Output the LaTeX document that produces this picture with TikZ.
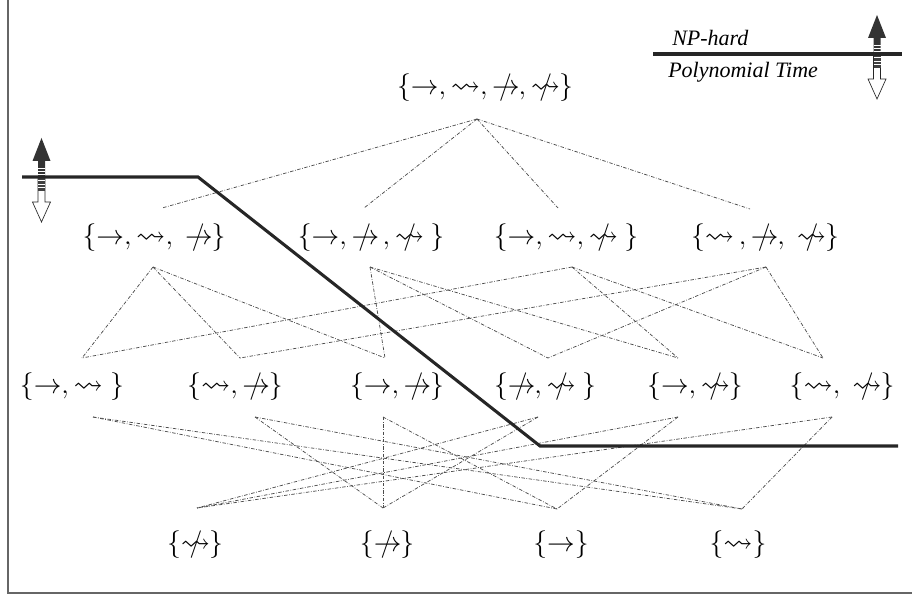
\documentclass[tikz,border=0pt]{standalone}
\usepackage{amssymb}
\usepackage{fontspec}
\setmainfont{Liberation Serif}
\newcommand{\nArr}{\mathrel{\rightarrow\mkern-13.5mu\mathrel{/}\mkern4.5mu}}
\newcommand{\nSq}{\mathrel{\rightsquigarrow\mkern-13.5mu\mathrel{/}\mkern4.5mu}}
\tikzset{
  hasse/.style={draw=black!70, line width=0.55pt, dash pattern=on 2.6pt off 1.2pt on 0.5pt off 1.2pt},
  cutline/.style={draw=black!85, line width=2.3pt},
  setlbl/.style={font=\fontsize{22}{26}\selectfont, inner sep=0pt},
  legendtxt/.style={font=\fontsize{16.5}{19}\selectfont\itshape, inner sep=0pt},
  framel/.style={draw=black!60, line width=0.8pt},
  updown/.pic={
    \fill[black!80] (-3.5,0) -- (-3.5,-16) -- (-9,-16) -- (0,-39) -- (9,-16) -- (3.5,-16) -- (3.5,0) -- cycle;
    \draw[white, line width=0.6pt] (-3.5,-2.5) -- (3.5,-2.5) (-3.5,-5.5) -- (3.5,-5.5) (-3.5,-8.5) -- (3.5,-8.5);
    \filldraw[fill=white, draw=black!85, line width=0.5pt] (-3.5,0) -- (-3.5,25) -- (-9,25) -- (0,45) -- (9,25) -- (3.5,25) -- (3.5,0) -- cycle;
    \fill[black!75] (-3.5,0) rectangle (3.5,14);
    \draw[white, line width=0.6pt] (-3.5,3.5) -- (3.5,3.5) (-3.5,7) -- (3.5,7) (-3.5,10.5) -- (3.5,10.5);
  }
}
\begin{document}
\begin{tikzpicture}[x=0.75pt,y=-0.75pt]
\useasboundingbox (0,0) rectangle (912,598);
\draw[framel] (8,0) -- (8,593) -- (912,593);

% set labels
\node[setlbl] (T) at (485,88) {$\{\rightarrow, \rightsquigarrow, \nArr, \nSq\}$};

\node[setlbl] (A1) at (154,238) {$\{\rightarrow, \rightsquigarrow,\ \nArr\}$};
\node[setlbl] (A2) at (371,238) {$\{\rightarrow,\nArr\,,\nSq\ \}$};
\node[setlbl] (A3) at (566,238) {$\{\rightarrow, \rightsquigarrow, \nSq\ \}$};
\node[setlbl] (A4) at (765,238) {$\{\rightsquigarrow\,,\nArr,\ \nSq\}$};

\node[setlbl] (B1) at (72,387) {$\{\rightarrow, \rightsquigarrow\ \}$};
\node[setlbl] (B2) at (235,387) {$\{\rightsquigarrow, \nArr\}$};
\node[setlbl] (B3) at (397,387) {$\{\rightarrow, \nArr\}$};
\node[setlbl] (B4) at (545,387) {$\{\nArr, \nSq\ \}$};
\node[setlbl] (B5) at (695,387) {$\{\rightarrow, \nSq\}$};
\node[setlbl] (B6) at (842,387) {$\{\rightsquigarrow,\ \nSq\}$};

\node[setlbl] (C1) at (195,545) {$\{\nSq\}$};
\node[setlbl] (C2) at (387,545) {$\{\nArr\}$};
\node[setlbl] (C3) at (561,545) {$\{\rightarrow\}$};
\node[setlbl] (C4) at (738,545) {$\{\rightsquigarrow\}$};

% connection points
\coordinate (Tb) at (477,119);
\coordinate (A1t) at (162,208); \coordinate (A2t) at (364,208);
\coordinate (A3t) at (558,208); \coordinate (A4t) at (750,209);
\coordinate (A1b) at (153,267); \coordinate (A2b) at (370,267);
\coordinate (A3b) at (572,267); \coordinate (A4b) at (766,267);
\coordinate (B1t) at (82,358);  \coordinate (B2t) at (240,358);
\coordinate (B3t) at (385,358); \coordinate (B4t) at (548,358);
\coordinate (B5t) at (678,358); \coordinate (B6t) at (823,358);
\coordinate (B1b) at (93,417);  \coordinate (B2b) at (255,417);
\coordinate (B3b) at (383,417); \coordinate (B4b) at (538,417);
\coordinate (B5b) at (678,417); \coordinate (B6b) at (832,417);
\coordinate (C1t) at (197,508); \coordinate (C2t) at (383,508);
\coordinate (C3t) at (557,509); \coordinate (C4t) at (742,509);

% Hasse edges
\foreach \a in {A1t,A2t,A3t,A4t} \draw[hasse] (Tb) -- (\a);
\foreach \a/\b in {A1b/B1t,A1b/B2t,A1b/B3t, A2b/B3t,A2b/B4t,A2b/B5t,
                   A3b/B1t,A3b/B5t,A3b/B6t, A4b/B2t,A4b/B4t,A4b/B6t}
  \draw[hasse] (\a) -- (\b);
\foreach \a/\b in {B1b/C3t,B1b/C4t, B2b/C4t,B2b/C2t, B3b/C3t,B3b/C2t,
                   B4b/C2t,B4b/C1t, B5b/C3t,B5b/C1t, B6b/C4t,B6b/C1t}
  \draw[hasse] (\a) -- (\b);

% complexity boundary
\coordinate (h0) at (22,177); \coordinate (h1) at (198,177);
\coordinate (h2) at (540,446); \coordinate (h3) at (898,446);
\pic at (41.5,177) {updown};
\draw[cutline] (h0) -- (h1) -- (h2) -- (h3);

% legend
\coordinate (l0) at (653,54); \coordinate (l1) at (902,54);
\pic at (877,54) {updown};
\draw[cutline] (l0) -- (l1);
\node[legendtxt, anchor=base west] (np) at (672,46) {NP-hard};
\node[legendtxt, anchor=base west] (pt) at (668,78) {Polynomial Time};
\end{tikzpicture}
\end{document}
